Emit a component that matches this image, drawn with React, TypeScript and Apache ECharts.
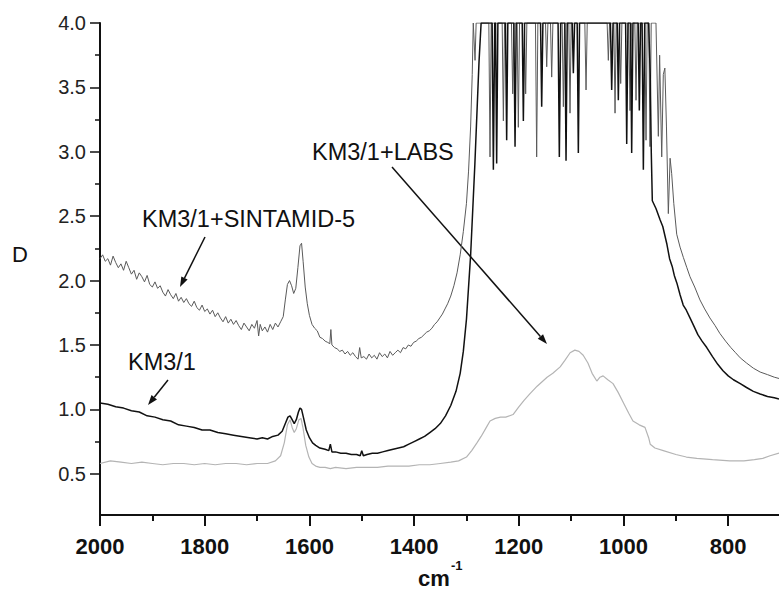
import React, { useEffect, useRef } from "react";
import * as echarts from "echarts";

// ---- axis ticks ----
const xMajorTicks = [2000, 1800, 1600, 1400, 1200, 1000, 800];
const xMinorTicks = [1900, 1700, 1500, 1300, 1100, 900];
const yMajorTicks = [0.5, 1.0, 1.5, 2.0, 2.5, 3.0, 3.5, 4.0];
const yMinorTicks = [0.75, 1.25, 1.75, 2.25, 2.75, 3.25, 3.75];

// ---- KM3/1 ----
const km31Wn = [
  2000, 1985, 1970, 1955, 1940, 1925, 1910, 1895, 1880, 1865, 1850, 1835, 1820, 1805, 1790, 1775, 1760, 1745, 1730, 1715,
  1700, 1690, 1680, 1670, 1660, 1652, 1646, 1641, 1637, 1633, 1629, 1625, 1621, 1618, 1615, 1611, 1606, 1600, 1594, 1588,
  1580, 1570, 1563, 1560, 1557, 1550, 1540, 1530, 1520, 1510, 1503, 1500, 1497, 1490, 1480, 1470, 1460, 1450, 1440, 1430,
  1420, 1410, 1400, 1390, 1380, 1370, 1360, 1350, 1340, 1330, 1320, 1312, 1306, 1300, 1296, 1292, 1288, 1284, 1280, 1276,
  1272, 1251, 1248.6, 1246, 1244.5, 1242.3, 1240, 1225.5, 1223.2, 1221, 1209.5, 1207.2, 1205, 1193.5, 1191.3, 1189,
  1158.5, 1156.3, 1154, 1125, 1122.6, 1120, 1112, 1109.8, 1107.5, 1098, 1095.8, 1093.5, 1088.5, 1086.3, 1084,
  1025, 1022.6, 1020, 1012, 1009.9, 1007.5, 996, 993.9, 991.5, 986.5, 984.4, 982, 972, 969.8, 967.5, 964.5, 962.1, 959.5,
  952, 949, 947, 945, 938, 930, 925, 921, 917, 912, 907, 903, 898, 892, 886, 880, 873, 866, 858, 850, 841, 830, 820, 810,
  800, 790, 777, 765, 752, 739, 725, 712, 703,
];
const km31D = [
  1.05, 1.04, 1.02, 1.01, 0.99, 0.98, 0.95, 0.94, 0.92, 0.91, 0.88, 0.87, 0.86, 0.84, 0.84, 0.82, 0.81, 0.8, 0.79, 0.78,
  0.77, 0.78, 0.77, 0.79, 0.8, 0.83, 0.89, 0.94, 0.95, 0.92, 0.89, 0.92, 0.98, 1.01, 1.0, 0.93, 0.84, 0.78, 0.74, 0.72,
  0.7, 0.69, 0.68, 0.73, 0.67, 0.67, 0.66, 0.66, 0.65, 0.65, 0.64, 0.68, 0.64, 0.65, 0.66, 0.66, 0.67, 0.68, 0.69, 0.7,
  0.71, 0.73, 0.75, 0.77, 0.79, 0.82, 0.85, 0.89, 0.95, 1.03, 1.14, 1.28, 1.45, 1.7, 1.95, 2.2, 2.55, 2.9, 3.3, 3.7,
  4.0, 4.0, 2.86, 4.0, 4.0, 2.91, 4.0, 4.0, 3.09, 4.0, 4.0, 3.04, 4.0, 4.0, 3.24, 4.0,
  4.0, 3.35, 4.0, 4.0, 2.96, 4.0, 4.0, 2.93, 4.0, 4.0, 3.61, 4.0, 4.0, 2.99, 4.0,
  4.0, 3.48, 4.0, 4.0, 3.4, 4.0, 4.0, 3.06, 4.0, 4.0, 2.99, 4.0, 4.0, 3.32, 4.0, 4.0, 2.86, 4.0,
  4.0, 3.6, 3.0, 2.62, 2.56, 2.47, 2.42, 2.35, 2.28, 2.17, 2.11, 2.04, 1.98, 1.89, 1.81, 1.77, 1.71, 1.65, 1.58, 1.53, 1.48, 1.41, 1.35, 1.3,
  1.26, 1.23, 1.2, 1.17, 1.14, 1.12, 1.1, 1.09, 1.08,
];

// ---- KM3/1+SINTAMID-5 ----
const sintWn = [
  2000, 1995, 1990, 1985, 1980, 1975, 1970, 1965, 1960, 1955, 1950, 1945, 1940, 1935, 1930, 1925, 1920, 1915, 1910, 1905,
  1900, 1895, 1890, 1885, 1880, 1875, 1870, 1865, 1860, 1855, 1850, 1845, 1840, 1835, 1830, 1825, 1820, 1815, 1810, 1805,
  1800, 1795, 1790, 1785, 1780, 1775, 1770, 1765, 1760, 1755, 1750, 1745, 1740, 1735, 1730, 1725, 1720, 1715, 1710, 1705,
  1700, 1697, 1694, 1690, 1685, 1680, 1675, 1670, 1665, 1660, 1655, 1650, 1646, 1642, 1638, 1634, 1630, 1626, 1622, 1618,
  1615, 1612, 1608, 1604, 1600, 1595, 1590, 1585, 1580, 1575, 1570, 1565, 1561, 1559, 1557, 1552, 1547, 1542, 1537, 1532,
  1527, 1522, 1517, 1512, 1507, 1504, 1501, 1496, 1491, 1486, 1481, 1476, 1471, 1466, 1461, 1456, 1451, 1446, 1441, 1436,
  1431, 1426, 1421, 1416, 1411, 1406, 1401, 1396, 1391, 1386, 1381, 1376, 1371, 1366, 1361, 1356, 1351, 1346, 1341, 1336,
  1330, 1324, 1318, 1312, 1306, 1300, 1296, 1292, 1289, 1287,
  1283.6, 1281.5, 1257.3, 1255, 1252.7, 1231.8, 1229.5, 1227.2, 1214, 1211.7, 1209.4, 1203.2, 1200.9, 1198.6,
  1189.2, 1186.9, 1184.6, 1168.2, 1165.9, 1163.6, 1149, 1146.7, 1144.4, 1139.5, 1137.2, 1134.9, 1117.2, 1114.9, 1112.6,
  1104.5, 1102.2, 1099.9, 1073.9, 1071.6, 1069.3, 1031.3, 1029, 1026.7, 1018.5, 1016.2, 1013.9, 1007.7, 1005.4, 1003.1,
  989.9, 987.6, 985.3, 978.4, 976.1, 973.8, 959.3, 957, 954.7, 951.7, 949.4, 947.1,
  938, 933.5, 931, 927, 924, 921, 918, 914.4, 911, 908, 904, 898.4, 892, 885.7, 879, 873, 864, 854, 845, 835, 825, 816,
  805, 795, 786, 777, 765, 752, 739, 725, 712, 703,
];
const sintD = [
  2.17, 2.2, 2.15, 2.17, 2.12, 2.19, 2.14, 2.1, 2.13, 2.08, 2.15, 2.1, 2.05, 2.08, 2.01, 2.06, 2.03, 1.99, 2.04, 1.97,
  1.95, 1.99, 1.94, 1.96, 1.91, 1.88, 1.93, 1.89, 1.86, 1.9, 1.84, 1.87, 1.83, 1.86, 1.82, 1.8, 1.84, 1.79, 1.77, 1.81,
  1.76, 1.78, 1.74, 1.77, 1.72, 1.75, 1.71, 1.68, 1.72, 1.67, 1.7, 1.66, 1.69, 1.65, 1.62, 1.67, 1.64, 1.61, 1.66, 1.63,
  1.69, 1.57, 1.66, 1.61, 1.64, 1.6, 1.66, 1.62, 1.67, 1.64, 1.68, 1.72, 1.85, 1.97, 2.0, 1.96, 1.9, 1.94, 2.1, 2.27,
  2.29, 2.15, 1.95, 1.82, 1.73, 1.66, 1.63, 1.61, 1.56, 1.55, 1.53, 1.52, 1.51, 1.62, 1.5, 1.48, 1.47, 1.45, 1.46, 1.43,
  1.45, 1.42, 1.44, 1.41, 1.39, 1.48, 1.4, 1.41, 1.39, 1.43, 1.4, 1.42, 1.39, 1.44, 1.41, 1.43, 1.4, 1.45, 1.42, 1.44,
  1.46, 1.44, 1.48, 1.47, 1.5, 1.49, 1.52, 1.53, 1.55, 1.56, 1.58, 1.6, 1.61, 1.63, 1.66, 1.68, 1.71, 1.74, 1.78, 1.82,
  1.88, 1.96, 2.06, 2.2, 2.38, 2.6, 2.85, 3.2, 3.6, 4.0,
  3.71, 4.0, 4.0, 2.96, 4.0, 4.0, 3.24, 4.0, 4.0, 3.45, 4.0, 4.0, 3.19, 4.0,
  4.0, 3.45, 4.0, 4.0, 2.96, 4.0, 4.0, 3.66, 4.0, 4.0, 3.58, 4.0, 4.0, 3.35, 4.0,
  4.0, 3.3, 4.0, 4.0, 3.48, 4.0, 4.0, 3.71, 4.0, 4.0, 3.3, 4.0, 4.0, 3.53, 4.0,
  4.0, 3.32, 4.0, 4.0, 3.4, 4.0, 4.0, 3.09, 4.0, 4.0, 3.04, 4.0,
  4.0, 3.12, 3.75, 2.96, 3.6, 3.65, 3.2, 2.52, 2.95, 2.83, 2.6, 2.36, 2.26, 2.18, 2.1, 2.03, 1.95, 1.85, 1.78, 1.71, 1.65, 1.59,
  1.53, 1.48, 1.44, 1.4, 1.36, 1.32, 1.29, 1.27, 1.25, 1.24,
];

// ---- KM3/1+LABS ----
const labsWn = [
  2000, 1980, 1960, 1940, 1920, 1900, 1880, 1860, 1840, 1820, 1800, 1780, 1760, 1740, 1720, 1700, 1680, 1665, 1655, 1648,
  1642, 1637, 1633, 1629, 1625, 1620, 1616, 1612, 1607, 1601, 1595, 1588, 1580, 1570, 1560, 1550, 1530, 1510, 1490, 1470,
  1450, 1430, 1410, 1390, 1370, 1350, 1330, 1315, 1300, 1290, 1280, 1272, 1262, 1255, 1245, 1235, 1225, 1211, 1200, 1190,
  1179, 1165, 1146, 1135, 1121, 1112, 1102, 1093, 1085, 1077, 1068, 1060, 1051, 1045, 1039, 1030, 1020, 1010, 1000, 990,
  982, 970, 959, 952, 949, 940, 924, 900, 880, 860, 830, 797, 770, 750, 734, 720, 703,
];
const labsD = [
  0.58, 0.6, 0.59, 0.58, 0.59, 0.58, 0.57, 0.58, 0.58, 0.57, 0.58, 0.57, 0.58, 0.58, 0.57, 0.58, 0.58, 0.6, 0.64, 0.74,
  0.88, 0.92, 0.86, 0.82, 0.85, 0.92, 0.93, 0.85, 0.72, 0.63, 0.58, 0.56, 0.55, 0.55, 0.54, 0.55, 0.54, 0.55, 0.55, 0.55,
  0.56, 0.56, 0.56, 0.57, 0.57, 0.58, 0.59, 0.6, 0.63, 0.68, 0.74, 0.79, 0.86, 0.91, 0.93, 0.94, 0.94, 0.96, 1.02, 1.07,
  1.12, 1.18, 1.25, 1.28, 1.33, 1.38, 1.44, 1.46, 1.45, 1.42, 1.36, 1.28, 1.22, 1.25, 1.26, 1.23, 1.2, 1.13, 1.05, 0.97,
  0.91, 0.88, 0.86, 0.78, 0.73, 0.7, 0.68, 0.65, 0.63, 0.62, 0.61, 0.6, 0.6, 0.61, 0.62, 0.64, 0.66,
];

const zip = (xs: number[], ys: number[]) => xs.map((x, i) => [x, ys[i]]);

const FONT = "'Liberation Sans', Arial, sans-serif";

function arrow(x1: number, y1: number, x2: number, y2: number) {
  const dx = x2 - x1;
  const dy = y2 - y1;
  const len = Math.sqrt(dx * dx + dy * dy);
  const ux = dx / len;
  const uy = dy / len;
  const hl = 10;
  const hw = 3.5;
  const bx = x2 - ux * hl;
  const by = y2 - uy * hl;
  return [
    {
      type: "line",
      shape: { x1, y1, x2: bx, y2: by },
      style: { stroke: "#111", lineWidth: 1.5 },
    },
    {
      type: "polygon",
      shape: {
        points: [
          [x2, y2],
          [bx - uy * hw, by + ux * hw],
          [bx + uy * hw, by - ux * hw],
        ],
      },
      style: { fill: "#111" },
    },
  ];
}

export default function App() {
  const ref = useRef<HTMLDivElement>(null);
  useEffect(() => {
    if (!ref.current) return;
    const chart = echarts.init(ref.current, null, { renderer: "svg" });
    const xCommon = {
      type: "value",
      inverse: true,
      min: 703,
      max: 2000,
      splitLine: { show: false },
    };
    const yCommon = {
      type: "value",
      min: 0.18,
      max: 4.0,
      splitLine: { show: false },
    };
    chart.setOption({
      animation: false,
      backgroundColor: "#ffffff",
      grid: { left: 100, right: 0, top: 23, bottom: 75, containLabel: false },
      xAxis: [
        {
          ...xCommon,
          axisLine: { show: true, onZero: false, lineStyle: { color: "#111", width: 2 } },
          axisTick: { show: true, length: 11, customValues: xMajorTicks, lineStyle: { color: "#111", width: 2 } },
          axisLabel: {
            show: true,
            customValues: xMajorTicks,
            margin: 20,
            color: "#111",
            fontFamily: FONT,
            fontWeight: "bold",
            fontSize: 22,
            formatter: (v: number) => String(Math.round(v)),
          },
        },
        {
          ...xCommon,
          position: "bottom",
          axisLine: { show: false },
          axisTick: { show: true, length: 6, customValues: xMinorTicks, lineStyle: { color: "#111", width: 2 } },
          axisLabel: { show: false },
        },
      ],
      yAxis: [
        {
          ...yCommon,
          axisLine: { show: true, onZero: false, lineStyle: { color: "#111", width: 2 } },
          axisTick: { show: true, length: 10, customValues: yMajorTicks, lineStyle: { color: "#111", width: 1.5 } },
          axisLabel: {
            show: true,
            customValues: yMajorTicks,
            margin: 14,
            color: "#222",
            fontFamily: FONT,
            fontSize: 20,
            formatter: (v: number) => v.toFixed(1),
          },
        },
        {
          ...yCommon,
          position: "left",
          axisLine: { show: false },
          axisTick: { show: true, length: 5, customValues: yMinorTicks, lineStyle: { color: "#111", width: 1.5 } },
          axisLabel: { show: false },
        },
      ],
      series: [
        {
          name: "KM3/1+LABS",
          type: "line",
          data: zip(labsWn, labsD),
          showSymbol: false,
          symbol: "none",
          lineStyle: { color: "#b4b4b4", width: 1.2 },
          z: 2,
        },
        {
          name: "KM3/1+SINTAMID-5",
          type: "line",
          data: zip(sintWn, sintD),
          showSymbol: false,
          symbol: "none",
          lineStyle: { color: "#5a5a5a", width: 1 },
          z: 3,
        },
        {
          name: "KM3/1",
          type: "line",
          data: zip(km31Wn, km31D),
          showSymbol: false,
          symbol: "none",
          lineStyle: { color: "#111", width: 1.5 },
          z: 4,
        },
      ],
      graphic: [
        {
          type: "text",
          left: 12,
          top: 243,
          style: { text: "D", font: `22px ${FONT}`, fill: "#111" },
        },
        {
          type: "text",
          x: 418,
          y: 567,
          style: { text: "cm", font: `bold 22px ${FONT}`, fill: "#111" },
        },
        {
          type: "text",
          x: 451,
          y: 559,
          style: { text: "-1", font: `bold 13px ${FONT}`, fill: "#111" },
        },
        {
          type: "text",
          x: 142,
          y: 207,
          style: { text: "KM3/1+SINTAMID-5", font: `23.5px ${FONT}`, fill: "#111" },
        },
        {
          type: "text",
          x: 128,
          y: 350,
          style: { text: "KM3/1", font: `23.5px ${FONT}`, fill: "#111" },
        },
        {
          type: "text",
          x: 312,
          y: 140,
          style: { text: "KM3/1+LABS", font: `23.5px ${FONT}`, fill: "#111" },
        },
        ...arrow(205, 237, 180, 287),
        ...arrow(168, 380, 148, 405),
        ...arrow(392, 167, 547, 344),
      ],
    });
    return () => chart.dispose();
  }, []);
  return (
    <div
      ref={ref}
      style={{ position: "fixed", left: 0, top: 0, width: 779, height: 590, background: "#fff" }}
    />
  );
}
